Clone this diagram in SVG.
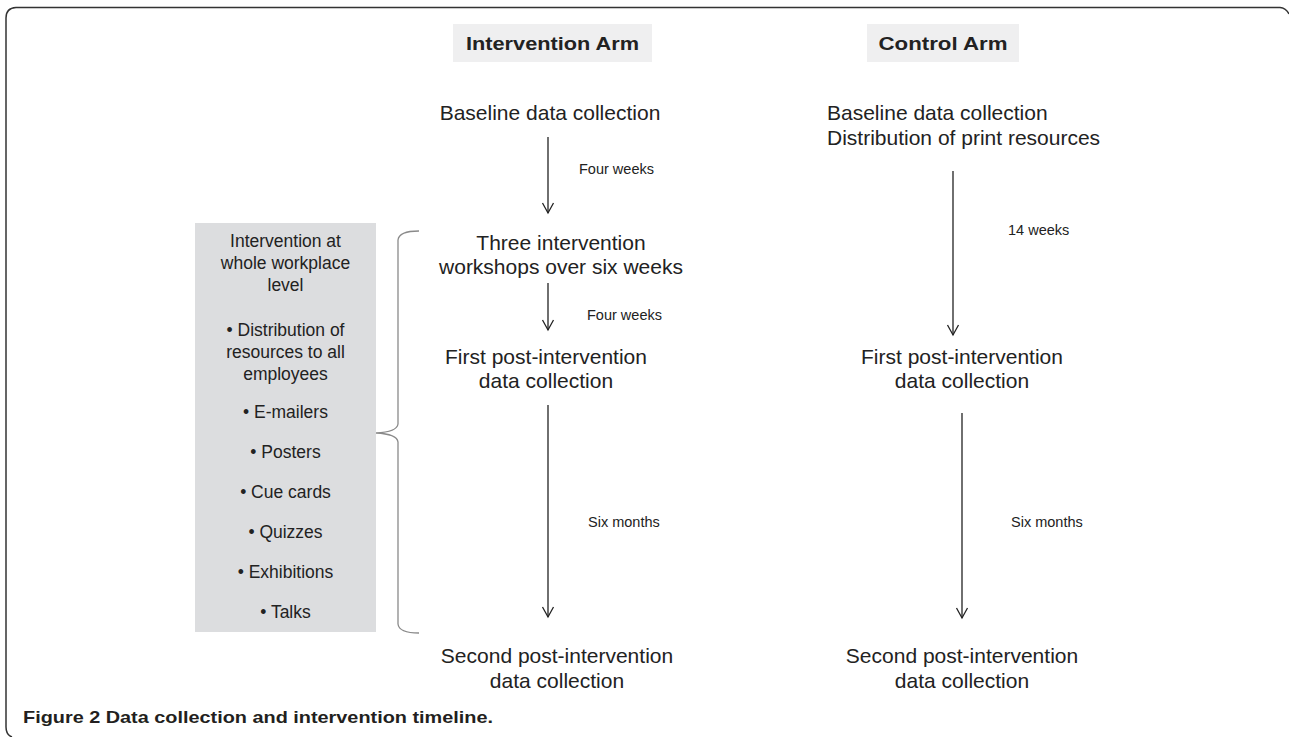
<svg xmlns="http://www.w3.org/2000/svg" width="1289" height="737" viewBox="0 0 1289 737">
<style>
.t{font-family:"Liberation Sans",Arial,sans-serif;font-size:21px;fill:#222;}
.s{font-family:"Liberation Sans",Arial,sans-serif;font-size:14.5px;fill:#222;}
.b{font-family:"Liberation Sans",Arial,sans-serif;font-size:17.5px;fill:#222;text-anchor:middle;}
.h{font-family:"Liberation Sans",Arial,sans-serif;font-size:19px;font-weight:bold;fill:#222;text-anchor:middle;}
.c{font-family:"Liberation Sans",Arial,sans-serif;font-size:16.5px;font-weight:bold;fill:#231f20;}
.m{text-anchor:middle;}
.ln{stroke:#222;stroke-width:1.3;fill:none;}
</style>
<defs>
<marker id="v" markerUnits="userSpaceOnUse" markerWidth="14" markerHeight="14" viewBox="0 0 14 14" refX="12" refY="7" orient="auto">
<path d="M2,1.5 L12,7 L2,12.5" fill="none" stroke="#222" stroke-width="1.3"/>
</marker>
</defs>
<rect width="1289" height="737" fill="#fff"/>
<path id="frame" d="M12 737 Q6 735 6 727 L6 18 Q6 8 16 7.5 L1280 7.5 Q1286 8 1289 14" fill="none" stroke="#333" stroke-width="1.5"/>

<g id="head-intervention">
<rect x="453" y="24" width="199" height="38" fill="#efeff0"/>
<text class="h" x="552.5" y="50" textLength="173" lengthAdjust="spacingAndGlyphs">Intervention Arm</text>
</g>
<g id="head-control">
<rect x="867" y="24" width="152" height="38" fill="#efeff0"/>
<text class="h" x="943" y="50" textLength="129" lengthAdjust="spacingAndGlyphs">Control Arm</text>
</g>

<g id="side-box">
<rect x="195" y="223" width="181" height="409" fill="#dcdddf"/>
<text class="b" x="285.5" y="247">Intervention at</text>
<text class="b" x="285.5" y="269">whole workplace</text>
<text class="b" x="285.5" y="291">level</text>
<text class="b" x="285.5" y="336">• Distribution of</text>
<text class="b" x="285.5" y="358">resources to all</text>
<text class="b" x="285.5" y="380">employees</text>
<text class="b" x="285.5" y="418">• E-mailers</text>
<text class="b" x="285.5" y="458">• Posters</text>
<text class="b" x="285.5" y="498">• Cue cards</text>
<text class="b" x="285.5" y="538">• Quizzes</text>
<text class="b" x="285.5" y="578">• Exhibitions</text>
<text class="b" x="285.5" y="618">• Talks</text>
</g>

<g id="brace">
<path d="M419 231 Q399 231 398 240 L398 424 Q397 432 376 433 Q397 434 398 442 L398 624 Q399 633 419 633" fill="none" stroke="#8a8a8a" stroke-width="1.3"/>
</g>

<g id="i-baseline"><text class="t m" x="550" y="120">Baseline data collection</text></g>
<g id="i-workshops">
<text class="t m" x="561" y="250">Three intervention</text>
<text class="t m" x="561" y="274">workshops over six weeks</text>
</g>
<g id="i-first">
<text class="t m" x="546" y="364">First post-intervention</text>
<text class="t m" x="546" y="388">data collection</text>
</g>
<g id="i-second">
<text class="t m" x="557" y="663">Second post-intervention</text>
<text class="t m" x="557" y="688">data collection</text>
</g>

<g id="c-baseline">
<text class="t" x="827" y="120">Baseline data collection</text>
<text class="t" x="827" y="145">Distribution of print resources</text>
</g>
<g id="c-first">
<text class="t m" x="962" y="364">First post-intervention</text>
<text class="t m" x="962" y="388">data collection</text>
</g>
<g id="c-second">
<text class="t m" x="962" y="663">Second post-intervention</text>
<text class="t m" x="962" y="688">data collection</text>
</g>

<g id="connectors">
<line class="ln" x1="548" y1="137" x2="548" y2="213" marker-end="url(#v)"/>
<line class="ln" x1="548" y1="283" x2="548" y2="330" marker-end="url(#v)"/>
<line class="ln" x1="548" y1="405" x2="548" y2="617" marker-end="url(#v)"/>
<line class="ln" x1="953" y1="171" x2="953" y2="335" marker-end="url(#v)"/>
<line class="ln" x1="962" y1="413" x2="962" y2="618" marker-end="url(#v)"/>
<text class="s" x="579" y="174">Four weeks</text>
<text class="s" x="587" y="320">Four weeks</text>
<text class="s" x="588" y="527">Six months</text>
<text class="s" x="1008" y="235">14 weeks</text>
<text class="s" x="1011" y="527">Six months</text>
</g>

<text class="c" x="23" y="723" textLength="470" lengthAdjust="spacingAndGlyphs">Figure 2 <tspan font-weight="600">Data collection and intervention timeline.</tspan></text>
</svg>
